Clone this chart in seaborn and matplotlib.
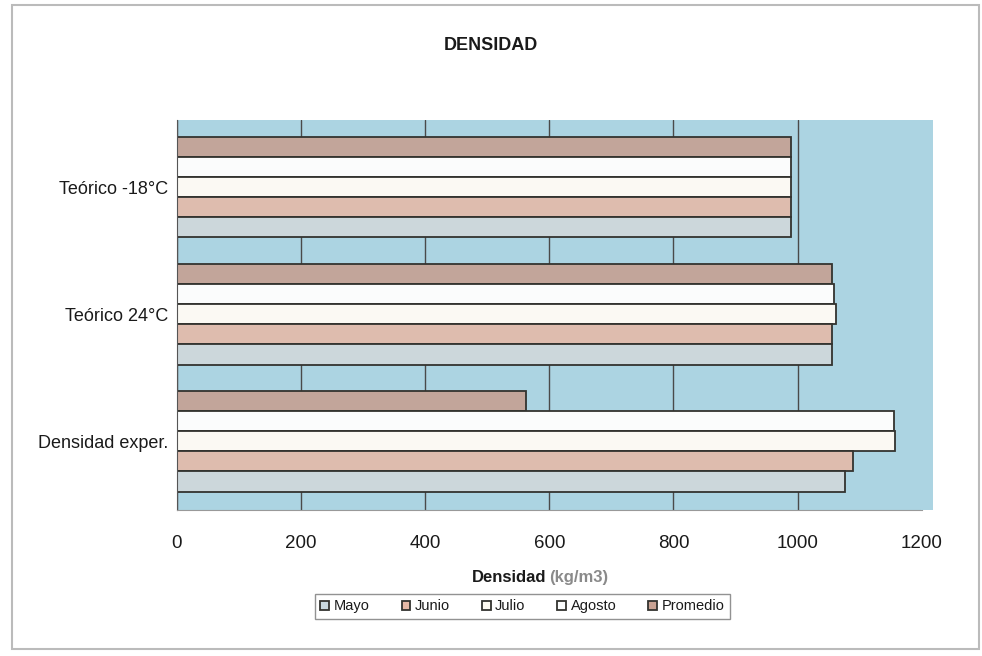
#plot densidad
import numpy as np
import pandas as pd
import seaborn as sns
import matplotlib.pyplot as plt
from matplotlib.patches import Patch, Rectangle
import warnings

warnings.filterwarnings("ignore")

# data
categorias = ["Teórico -18°C", "Teórico 24°C", "Densidad exper."]
meses = ["Mayo", "Junio", "Julio", "Agosto", "Promedio"]
mayo = [990, 1055, 1076]
junio = [990, 1056, 1089]
julio = [990, 1062, 1157]
agosto = [990, 1059, 1156]
promedio = [990, 1055, 563]
xticks = [0, 200, 400, 600, 800, 1000, 1200]

colores = {"Mayo": "#c9d8de", "Junio": "#e6b9a6", "Julio": "#fdfaf1",
           "Agosto": "#fbfcfc", "Promedio": "#c9a293"}

series = {"Mayo": mayo, "Junio": junio, "Julio": julio,
          "Agosto": agosto, "Promedio": promedio}
rows = []
for mes in meses:
    for cat, val in zip(categorias, series[mes]):
        rows.append({"categoria": cat, "mes": mes, "densidad": val})
df = pd.DataFrame(rows)

sns.set_style("white")
plt.rcParams['font.family'] = ['Liberation Sans Narrow', 'Liberation Sans', 'DejaVu Sans']
plt.rcParams['text.color'] = '#1a1a1a'
plt.rcParams['xtick.color'] = '#1a1a1a'
plt.rcParams['ytick.color'] = '#1a1a1a'

fig = plt.figure(figsize=(9.82, 6.56), dpi=100)
ax = fig.add_axes([0.180, 0.2226, 0.7587, 0.5945])
ax.set_facecolor("#acd4e2")

# excel draws first series at bottom of each group -> reverse hue order
orden_hue = meses[::-1]
sns.barplot(data=df, x="densidad", y="categoria", hue="mes", order=categorias,
            hue_order=orden_hue, palette=colores, orient="h", width=0.79,
            edgecolor="#33332f", linewidth=1.3, ax=ax, legend=False)

ax.set_xlim(0, 1200)
ax.set_ylim(2.54, -0.53)
ax.set_xticks(xticks)
ax.set_xticklabels([str(t) for t in xticks], fontsize=13.5)
ax.tick_params(axis="y", labelsize=13, length=0, pad=6)
ax.tick_params(axis="x", length=4, pad=14, color="#555555")
ax.xaxis.grid(True, color="#4a4a4a", linewidth=1.0)
ax.set_axisbelow(True)
ax.set_xlabel("")
ax.set_ylabel("")
for s in ["top", "right"]:
    ax.spines[s].set_visible(False)
ax.spines["left"].set_color("#555555")
ax.spines["bottom"].set_color("#999999")

# back wall extends a little beyond 1200
fig.patches.append(Rectangle((0.938, 0.2226), 0.012, 0.5945, transform=fig.transFigure,
                             facecolor="#acd4e2", edgecolor="none", zorder=0))

fig.text(0.5, 0.931, "DENSIDAD", ha="center", va="center", fontsize=13, fontweight="bold")
fig.text(0.556, 0.119, "Densidad", ha="right", va="center", fontsize=12, fontweight="bold")
fig.text(0.559, 0.119, "(kg/m3)", ha="left", va="center", fontsize=12, fontweight="bold", color="#8a8a8a")

handles = [Patch(facecolor=colores[m], edgecolor="#33332f", linewidth=1.3, label=m) for m in meses]
leg = fig.legend(handles=handles, loc="center", bbox_to_anchor=(0.532, 0.0755), ncol=5,
                 fontsize=10.5, frameon=True, fancybox=False, handlelength=0.6, handleheight=0.6,
                 handletextpad=0.3, columnspacing=2.2, borderpad=0.35)
leg.get_frame().set_edgecolor("#777777")
leg.get_frame().set_linewidth(1.0)

# outer chart border
fig.patches.append(Rectangle((0.012, 0.01), 0.985, 0.982, transform=fig.transFigure,
                             facecolor="none", edgecolor="#bbbbbb", linewidth=1.5))

plt.savefig("out.png", dpi=100)
